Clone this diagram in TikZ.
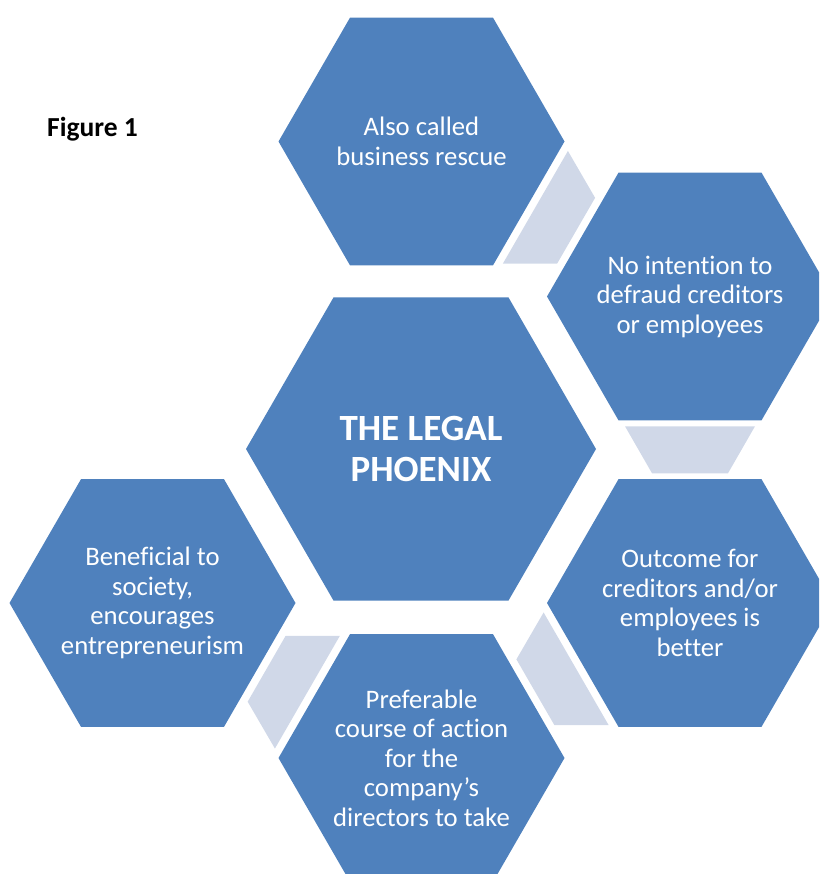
\documentclass[tikz,border=0pt]{standalone}
\usepackage{fontspec}
\setmainfont[Ligatures={NoCommon}]{Carlito}
\usetikzlibrary{shapes.geometric,calc}
\definecolor{hexblue}{HTML}{4F81BD}
\definecolor{linkgrey}{HTML}{D0D8E8}
\tikzset{
  hexnode/.style={regular polygon, regular polygon sides=6, fill=hexblue, draw=none,
    inner sep=-45pt, minimum size=286pt, text=white, align=center,
    font=\fontsize{26.7}{29.5}\selectfont},
  bighex/.style={hexnode, minimum size=350pt, font=\bfseries\fontsize{37}{41}\selectfont},
  linkfill/.style={fill=linkgrey, draw=none},
  figlabel/.style={font=\bfseries\fontsize{27.5}{32}\selectfont, text=black, inner sep=0pt}
}
\newcommand\linkshape[3]{%
  \coordinate (#3m) at ($(#1.center)!0.5!(#2.center)$);
  \coordinate (#3l) at ($(#3m)!23.5pt!(#1.center)$);
  \coordinate (#3s) at ($(#3m)!23.5pt!(#2.center)$);
  \fill[linkfill] ($(#3l)!65pt!90:(#2.center)$) -- ($(#3l)!65pt!-90:(#2.center)$)
    -- ($(#3s)!38pt!-90:(#2.center)$) -- ($(#3s)!38pt!90:(#2.center)$) -- cycle;
}
\begin{document}
\begin{tikzpicture}[x=1pt,y=-1pt]
\useasboundingbox (0,0) rectangle (819,874);
\clip (0,0) rectangle (819,874);
\node[hexnode] (top) at (421.5,141.5) {Also called\\business rescue};
\node[hexnode] (ru) at (690,296.5) {No intention to\\defraud creditors\\or employees};
\node[bighex] (center) at (421,449) {THE LEGAL\\PHOENIX};
\node[hexnode] (rl) at (690,603) {Outcome for\\creditors and/or\\employees is\\better};
\node[hexnode] (bottom) at (421.5,758) {Preferable\\course of action\\for the\\company’s\\directors to take};
\node[hexnode] (left) at (152.5,603) {Beneficial to\\society,\\encourages\\entrepreneurism};
\linkshape{top}{ru}{ka}
\linkshape{ru}{rl}{kb}
\linkshape{rl}{bottom}{kc}
\linkshape{bottom}{left}{kd}
\node[figlabel, anchor=base west] (fig) at (47,137) {Figure 1};
\end{tikzpicture}
\end{document}
